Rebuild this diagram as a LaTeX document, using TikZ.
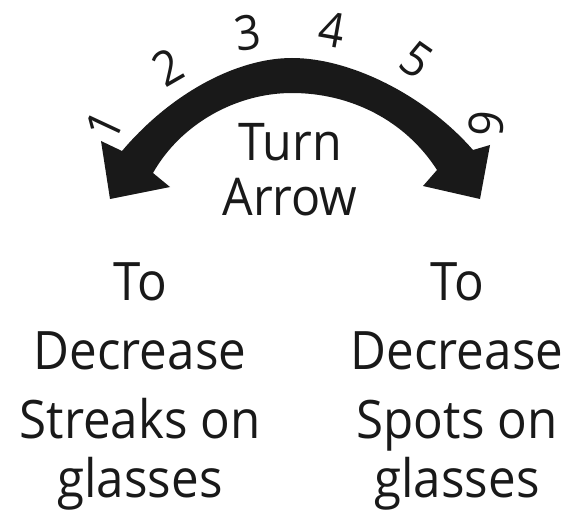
\documentclass[tikz,border=0pt]{standalone}
\usepackage{fontspec}
\setmainfont{Open Sans}[FakeStretch=0.93]
\begin{document}
\begin{tikzpicture}[x=1pt,y=-1pt,
  label/.style={font=\fontsize{53}{69}\selectfont, text=black!90, align=center, anchor=base, inner sep=0pt},
  title/.style={font=\fontsize{52}{55}\selectfont, text=black!90, align=center, anchor=base, inner sep=0pt},
  digit/.style={font=\fontsize{48}{48}\selectfont, text=black!90, inner sep=0pt}]
\useasboundingbox (0,0) rectangle (569,513);
% turn arrow band with two heads
\fill[black!90] (122,151)
  .. controls (172,92) and (238,58) .. (292,58)
  .. controls (350,58) and (425,95) .. (473,150)
  -- (490,145) -- (480,199) -- (423,186) -- (437,170)
  .. controls (405,120) and (350,93) .. (292,93)
  .. controls (235,93) and (180,125) .. (153,173)
  -- (170,187) -- (110,199) -- (101,141) -- cycle;
% numbers
\node[digit, rotate=65] (n1) at (104,126) {1};
\node[digit, rotate=30] (n2) at (168,67) {2};
\node[digit, rotate=8] (n3) at (248,33) {3};
\node[digit, rotate=-10] (n4) at (332,30) {4};
\node[digit, rotate=-35] (n5) at (417,60) {5};
\node[digit, rotate=-95] (n6) at (486,124) {6};
% texts
\node[title] (turn) at (290,215) {Turn\\Arrow};
\node[label] (left) at (140,497) {To\\Decrease\\Streaks on\\[-10pt]glasses};
\node[label] (right) at (457,497) {To\\Decrease\\Spots on\\[-10pt]glasses};
\end{tikzpicture}
\end{document}
